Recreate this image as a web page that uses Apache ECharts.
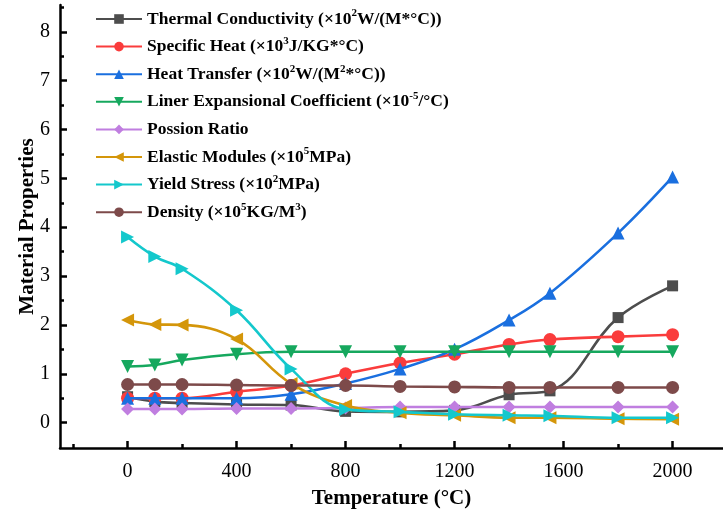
<!DOCTYPE html>
<html lang="en">
<head>
    <meta charset="UTF-8">
    <title>Material Properties vs Temperature</title>
    <script src="https://cdn.jsdelivr.net/npm/echarts@6.0.0/dist/echarts.min.js"></script>
</head>
<body style="margin:0">
    <div id="main" style="width: 723px;height:517px;"></div>
    <script type="text/javascript">
        // temperatures (°C)
        var temperatures = [0, 100, 200, 400, 600, 800, 1000, 1200, 1400, 1550, 1800, 2000];
        var thermal = [0.53, 0.43, 0.4, 0.37, 0.36, 0.23, 0.22, 0.25, 0.57, 0.65, 2.15, 2.8];
        var specificHeat = [0.5, 0.5, 0.5, 0.63, 0.76, 1.0, 1.22, 1.4, 1.6, 1.7, 1.76, 1.8];
        var heatTransfer = [0.5, 0.5, 0.5, 0.5, 0.58, 0.8, 1.1, 1.5, 2.1, 2.65, 3.88, 5.03];
        var expansion = [1.15, 1.18, 1.28, 1.4, 1.45, 1.45, 1.45, 1.45, 1.45, 1.45, 1.45, 1.45];
        var poisson = [0.28, 0.28, 0.28, 0.29, 0.29, 0.3, 0.32, 0.32, 0.32, 0.32, 0.32, 0.32];
        var elastic = [2.1, 2.01, 2.0, 1.71, 0.8, 0.35, 0.2, 0.15, 0.1, 0.1, 0.08, 0.07];
        var yieldStress = [3.8, 3.4, 3.15, 2.3, 1.1, 0.27, 0.22, 0.17, 0.15, 0.14, 0.1, 0.1];
        var density = [0.78, 0.78, 0.78, 0.77, 0.76, 0.76, 0.74, 0.73, 0.72, 0.72, 0.72, 0.72];

        var xLabels = [0, 400, 800, 1200, 1600, 2000];
        var xMinor = [-200, 200, 600, 1000, 1400, 1800];
        var yLabels = [0, 1, 2, 3, 4, 5, 6, 7, 8];
        var yMinor = [0.5, 1.5, 2.5, 3.5, 4.5, 5.5, 6.5, 7.5, 8.5];

        var names = ['Thermal Conductivity', 'Specific Heat', 'Heat Transfer',
            'Liner Expansional Coefficient', 'Possion Ratio', 'Elastic Modules',
            'Yield Stress', 'Density'];
        var legendText = [
            'Thermal Conductivity (×10{s|2}W/(M*°C))',
            'Specific Heat (×10{s|3}J/KG*°C)',
            'Heat Transfer (×10{s|2}W/(M{s|2}*°C))',
            'Liner Expansional Coefficient (×10{s|-5}/°C)',
            'Possion Ratio',
            'Elastic Modules (×10{s|5}MPa)',
            'Yield Stress (×10{s|2}MPa)',
            'Density (×10{s|5}KG/M{s|3})'
        ];
        var colors = ['#4d4d4d', '#fa3c3c', '#1a6fdf', '#16a85e', '#c07ee0', '#d4960a', '#14c8cc', '#7d4a4a'];
        var symbols = ['rect', 'circle', 'triangle', 'triangle', 'diamond', 'triangle', 'triangle', 'circle'];
        var rotations = [0, 0, 0, 180, 0, 90, -90, 0];
        var values = [thermal, specificHeat, heatTransfer, expansion, poisson, elastic, yieldStress, density];

        var serif = '"Liberation Serif", "Times New Roman", serif';
        var myChart = echarts.init(document.getElementById('main'));

        var series = names.map(function (name, i) {
            return {
                name: name,
                type: 'line',
                smooth: 0.4,
                data: temperatures.map(function (t, j) { return [t, values[i][j]]; }),
                symbol: symbols[i],
                symbolRotate: rotations[i],
                symbolSize: symbols[i] === 'rect' ? 11 : 13,
                color: colors[i],
                lineStyle: { width: 2.6, color: colors[i] },
                itemStyle: { color: colors[i] },
                z: 2 + i
            };
        });

        var option = {
            animation: false,
            grid: { left: 60, right: 0, top: 5, bottom: 69 },
            legend: {
                orient: 'vertical',
                left: 90,
                top: 3,
                itemWidth: 46,
                itemHeight: 12,
                itemGap: 5.6,
                data: names,
                formatter: function (name) { return legendText[names.indexOf(name)]; },
                textStyle: {
                    fontFamily: serif,
                    fontWeight: 'bold',
                    fontSize: 17.5,
                    lineHeight: 22,
                    color: '#000',
                    rich: {
                        s: { fontFamily: serif, fontWeight: 'bold', fontSize: 11, lineHeight: 12, verticalAlign: 'top', color: '#000' }
                    }
                }
            },
            xAxis: [{
                type: 'value',
                min: -248,
                max: 2185,
                name: 'Temperature (°C)',
                nameLocation: 'middle',
                nameGap: 40,
                nameTextStyle: { fontFamily: serif, fontWeight: 'bold', fontSize: 21, color: '#000' },
                axisLine: { onZero: false, lineStyle: { color: '#000', width: 2.5 } },
                axisTick: { inside: true, length: 7, customValues: xLabels, lineStyle: { width: 2.5, color: '#000' } },
                axisLabel: { customValues: xLabels, formatter: function (v) { return String(v); }, fontFamily: serif, fontSize: 20, color: '#000', margin: 14 },
                splitLine: { show: false }
            }, {
                type: 'value',
                position: 'bottom',
                min: -248,
                max: 2185,
                axisLine: { show: false, onZero: false },
                axisTick: { inside: true, length: 4, customValues: xMinor, lineStyle: { width: 2.5, color: '#000' } },
                axisLabel: { show: false },
                splitLine: { show: false }
            }],
            yAxis: [{
                type: 'value',
                min: -0.52,
                max: 8.55,
                axisLine: { show: true, onZero: false, lineStyle: { color: '#000', width: 2.5 } },
                axisTick: { show: true, inside: true, length: 7, customValues: yLabels, lineStyle: { width: 2.5, color: '#000' } },
                axisLabel: { customValues: yLabels, fontFamily: serif, fontSize: 20, color: '#000', margin: 10 },
                splitLine: { show: false }
            }, {
                type: 'value',
                position: 'left',
                min: -0.52,
                max: 8.55,
                name: 'Material Properties',
                nameLocation: 'middle',
                nameGap: 22,
                nameTextStyle: { fontFamily: serif, fontWeight: 'bold', fontSize: 21, color: '#000' },
                axisLine: { show: false, onZero: false },
                axisTick: { show: true, inside: true, length: 4, customValues: yMinor, lineStyle: { width: 2.5, color: '#000' } },
                axisLabel: { show: false },
                splitLine: { show: false }
            }],
            series: series
        };
        myChart.setOption(option);
    </script>
</body>
</html>
